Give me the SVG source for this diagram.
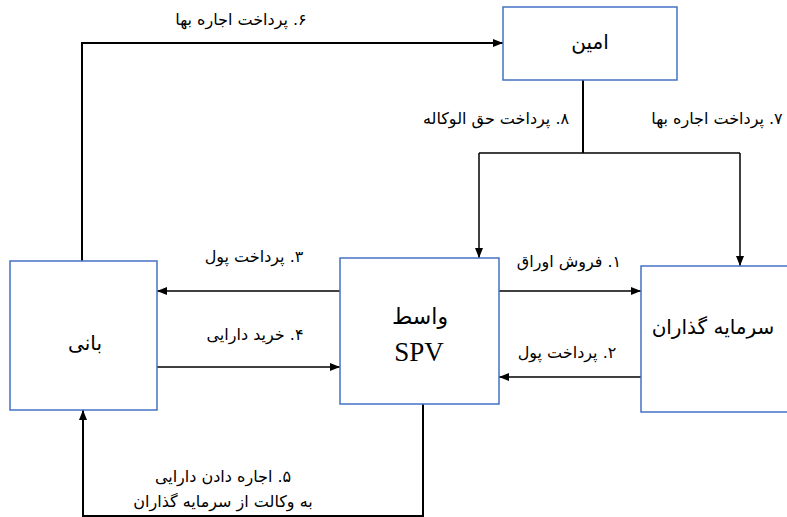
<svg xmlns="http://www.w3.org/2000/svg" width="787" height="517" viewBox="0 0 787 517">
<style>
.box{fill:#fff;stroke:#4472C4;stroke-width:1.5}
.ln{fill:none;stroke:#000;stroke-width:1.5}
.thk{stroke-width:2}
.t{font-family:"DejaVu Sans",sans-serif;font-size:16px;fill:#000;text-anchor:middle;direction:rtl}
.n{font-size:20px}
.lat{font-family:"Liberation Serif",serif;font-size:27px;direction:ltr}
</style>
<defs>
<marker id="a" viewBox="0 0 10 10" refX="10" refY="5" markerWidth="10" markerHeight="10" markerUnits="userSpaceOnUse" orient="auto"><path d="M0,1 L10,5 L0,9 z" fill="#000"/></marker>
</defs>
<rect width="787" height="517" fill="#fff"/>
<g id="connectors">
<path class="ln thk" d="M82,261 V43 H503" marker-end="url(#a)"/>
<path class="ln thk" d="M583,80 V153"/>
<path class="ln" d="M479,153 H740"/>
<path class="ln" d="M479,153 V258" marker-end="url(#a)"/>
<path class="ln" d="M740,153 V266" marker-end="url(#a)"/>
<path class="ln" d="M340,291 H157" marker-end="url(#a)"/>
<path class="ln" d="M157,367 H340" marker-end="url(#a)"/>
<path class="ln" d="M499,291 H641" marker-end="url(#a)"/>
<path class="ln" d="M641,377 H499" marker-end="url(#a)"/>
<path class="ln thk" d="M423,404 V516 H83 V410" marker-end="url(#a)"/>
</g>
<g id="labels">
<text class="t" x="241" y="25">۶. پرداخت اجاره بها</text>
<text class="t" x="496" y="124">۸. پرداخت حق الوکاله</text>
<text class="t" x="717" y="124">۷. پرداخت اجاره بها</text>
<text class="t" x="254" y="262">۳. پرداخت پول</text>
<text class="t" x="255" y="340">۴. خرید دارایی</text>
<text class="t" x="569" y="267">۱. فروش اوراق</text>
<text class="t" x="567" y="358">۲. پرداخت پول</text>
<text class="t" x="223" y="482">۵. اجاره دادن دارایی</text>
<text class="t" x="223" y="507">به وکالت از سرمایه گذاران</text>
</g>
<g id="amin">
<rect class="box" x="503" y="7" width="174" height="73"/>
<text class="t n" x="590" y="49">امین</text>
</g>
<g id="bani">
<rect class="box" x="10" y="261" width="147" height="149"/>
<text class="t n" x="85" y="350">بانی</text>
</g>
<g id="spv">
<rect class="box" x="340" y="258" width="159" height="146"/>
<text class="t n" x="420" y="324" style="font-size:22px">واسط</text>
<text class="t lat" x="419" y="361">SPV</text>
</g>
<g id="investors">
<rect class="box" x="641" y="266" width="160" height="146"/>
<text class="t n" x="713" y="334">سرمایه گذاران</text>
</g>
</svg>
